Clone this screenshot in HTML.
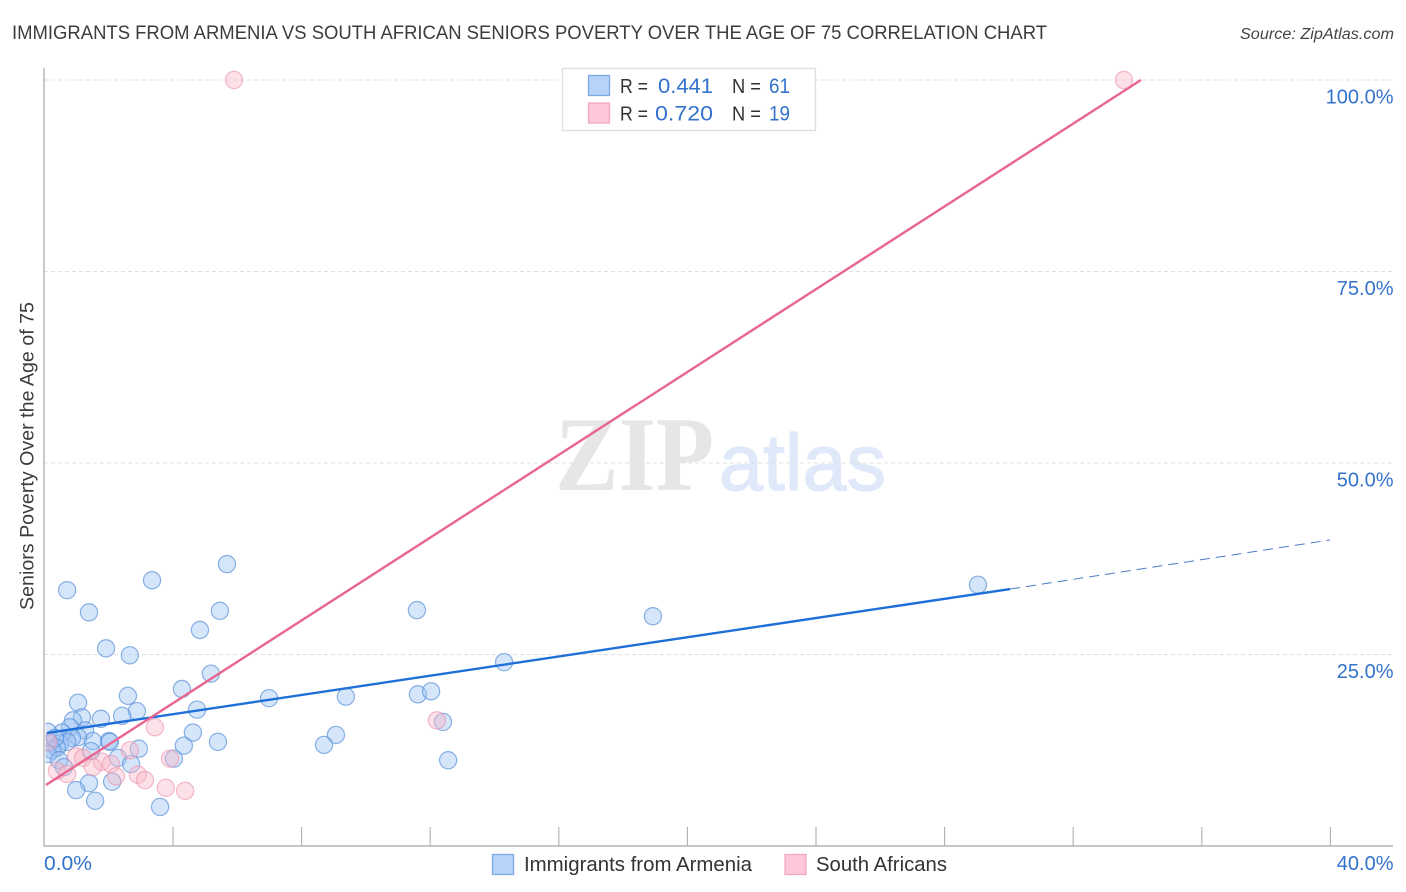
<!DOCTYPE html>
<html lang="en">
<head>
<meta charset="utf-8">
<title>Immigrants from Armenia vs South African Seniors Poverty Over the Age of 75 Correlation Chart</title>
<style>
html,body{margin:0;padding:0;background:#fff;width:1406px;height:892px;overflow:hidden}
svg{display:block}
text{font-family:"Liberation Sans",sans-serif}
</style>
</head>
<body>
<svg id="chart" width="1406" height="892" viewBox="0 0 1406 892" xmlns="http://www.w3.org/2000/svg">
  <defs>
    <clipPath id="plot-clip"><rect x="45.5" y="60" width="1350" height="786"/></clipPath>
  </defs>
  <rect x="0" y="0" width="1406" height="892" fill="#fff"/>
  <text x="12" y="39" font-size="19.5" fill="#3c3c3c" textLength="1035" lengthAdjust="spacingAndGlyphs">IMMIGRANTS FROM ARMENIA VS SOUTH AFRICAN SENIORS POVERTY OVER THE AGE OF 75 CORRELATION CHART</text>
  <text x="1394" y="39" font-size="15.5" font-style="italic" fill="#444" text-anchor="end" textLength="154" lengthAdjust="spacingAndGlyphs">Source: ZipAtlas.com</text>
  <g>
    <text x="555" y="490" font-size="106" font-weight="bold" fill="#e6e6e6" style="font-family:'Liberation Serif',serif" textLength="159" lengthAdjust="spacingAndGlyphs">ZIP</text>
    <text x="719" y="490" font-size="80" fill="#dfe9f9" stroke="#dfe9f9" stroke-width="1.2" textLength="167" lengthAdjust="spacingAndGlyphs">atlas</text>
  </g>
  <g id="grid"></g>
  <g id="axes"></g>
  <g id="blue-points" clip-path="url(#plot-clip)"></g>
  <g id="pink-points" clip-path="url(#plot-clip)"></g>
  <g id="trends"></g>
  <g>
    <rect x="562.5" y="68.5" width="253" height="62" fill="#fff" stroke="#ddd" stroke-width="1.3"/>
    <rect x="588.5" y="75.5" width="21" height="20" fill="#b7d3f8" stroke="#7eaae4" stroke-width="1.3"/>
    <rect x="588.5" y="103" width="21" height="20" fill="#fdc8d9" stroke="#f0a8c0" stroke-width="1.3"/>
    <text x="620" y="93" font-size="20" fill="#333" textLength="28" lengthAdjust="spacingAndGlyphs">R =</text>
    <text x="658" y="93" font-size="21" fill="#3472cc" textLength="55" lengthAdjust="spacingAndGlyphs">0.441</text>
    <text x="732" y="93" font-size="20" fill="#333" textLength="29" lengthAdjust="spacingAndGlyphs">N =</text>
    <text x="769" y="93" font-size="21" fill="#3472cc" textLength="21" lengthAdjust="spacingAndGlyphs">61</text>
    <text x="620" y="120.5" font-size="20" fill="#333" textLength="28" lengthAdjust="spacingAndGlyphs">R =</text>
    <text x="655" y="120.5" font-size="21" fill="#3472cc" textLength="58" lengthAdjust="spacingAndGlyphs">0.720</text>
    <text x="732" y="120.5" font-size="20" fill="#333" textLength="29" lengthAdjust="spacingAndGlyphs">N =</text>
    <text x="769" y="120.5" font-size="21" fill="#3472cc" textLength="21" lengthAdjust="spacingAndGlyphs">19</text>
  </g>
  <g>
    <rect x="492.5" y="854.5" width="21" height="20" fill="#b7d3f8" stroke="#7eaae4" stroke-width="1.3"/>
    <text x="524" y="871" font-size="20" fill="#333" textLength="228" lengthAdjust="spacingAndGlyphs">Immigrants from Armenia</text>
    <rect x="785" y="854.5" width="21" height="20" fill="#fdc8d9" stroke="#f0a8c0" stroke-width="1.3"/>
    <text x="816" y="871" font-size="20" fill="#333" textLength="131" lengthAdjust="spacingAndGlyphs">South Africans</text>
  </g>
  <text transform="translate(33.5,456) rotate(-90)" text-anchor="middle" font-size="19" fill="#3c3c3c" textLength="308" lengthAdjust="spacingAndGlyphs">Seniors Poverty Over the Age of 75</text>
</svg>
<script>
const xTickValues = [0, 4, 8, 12, 16, 20, 24, 28, 32, 36, 40];
const xEdgeLabels = ["0.0%", "40.0%"];
const yTickValues = [25, 50, 75, 100];
const yTickLabels = ["25.0%", "50.0%", "75.0%", "100.0%"];

const armeniaX = [0.72,1.40,3.36,5.69,5.47,4.85,1.93,2.67,5.19,4.29,2.61,1.06,4.76,2.89,2.43,1.18,1.77,0.90,1.28,0.81,4.63,5.41,4.35,2.95,2.02,2.05,1.52,1.46,1.06,0.56,0.87,0.12,0.50,0.72,0.19,0.40,0.25,0.12,0.47,0.62,2.30,2.71,4.04,2.12,1.40,1.00,1.59,3.61,7.00,9.39,9.08,8.71,11.63,12.04,11.60,14.31,12.41,12.57,18.94,29.05,0.34];
const armeniaY = [33.4,30.5,34.7,36.8,30.7,28.2,25.8,24.9,22.5,20.5,19.6,18.7,17.8,17.6,17.0,16.8,16.6,16.4,15.1,15.5,14.8,13.6,13.1,12.7,13.7,13.6,13.7,12.4,14.2,14.8,14.1,14.9,13.4,13.6,13.4,12.8,12.5,12.0,11.2,10.3,11.5,10.7,11.4,8.4,8.2,7.3,5.9,5.1,19.3,19.5,14.5,13.2,19.8,20.2,30.8,24.0,16.2,11.2,30.0,34.1,14.1];

const southAfricanX = [3.45,2.67,3.92,1.00,1.21,1.80,2.08,1.52,0.40,0.72,2.24,2.92,3.14,3.79,4.39,5.91,33.59,12.22,0.12];
const southAfricanY = [15.5,12.5,11.4,11.7,11.5,11.0,10.7,10.3,9.8,9.4,9.1,9.3,8.6,7.6,7.2,100,100,16.4,13.6];

const armeniaTrendX = [0.09, 30.05];
const armeniaTrendY = [14.75, 33.55];
const armeniaDashX = [30.05, 40];
const armeniaDashY = [33.55, 39.95];
const southAfricanTrendX = [0.06, 34.12];
const southAfricanTrendY = [7.96, 100];

const NS = "http://www.w3.org/2000/svg";
function xScale(v) { return 44 + v * (1330 - 44) / 40; }
function yScale(v) { return 846 - v * (846 - 80) / 100; }
function make(tag, attrs, parentId) {
  const el = document.createElementNS(NS, tag);
  for (const k in attrs) el.setAttribute(k, attrs[k]);
  document.getElementById(parentId).appendChild(el);
  return el;
}

yTickValues.forEach(function (v, i) {
  const line = make("line", {x1: 44, x2: 1393, y1: yScale(v), y2: yScale(v), stroke: "#e0e0e0", "stroke-width": 1, "stroke-dasharray": "4 3"}, "grid");
  
  
  const label = make("text", {x: 1393.5, y: yScale(v) + 23.5, "text-anchor": "end", "font-size": 20, fill: "#3472cc"}, "axes");
  label.textContent = yTickLabels[i];
  
  
});

const yAxis = make("line", {x1: 44, x2: 44, y1: 68, y2: 846, stroke: "#b4b4b4", "stroke-width": 1.4}, "axes");


const xAxis = make("line", {x1: 43.3, x2: 1393, y1: 846, y2: 846, stroke: "#b4b4b4", "stroke-width": 1.4}, "axes");



xTickValues.forEach(function (v) {
  if (v === 0) return;
  const tick = make("line", {x1: xScale(v) + 0.4, x2: xScale(v) + 0.4, y1: 827, y2: 846, stroke: "#b4b4b4", "stroke-width": 1.2}, "axes");
  
  
});

const xLabelMin = make("text", {x: 44, y: 870, "font-size": 20, fill: "#3472cc", textLength: 48, lengthAdjust: "spacingAndGlyphs"}, "axes");
xLabelMin.textContent = xEdgeLabels[0];


const xLabelMax = make("text", {x: 1393.5, y: 870, "text-anchor": "end", "font-size": 20, fill: "#3472cc"}, "axes");
xLabelMax.textContent = xEdgeLabels[1];



armeniaX.forEach(function (v, i) {
  const c = make("circle", {cx: xScale(v), cy: yScale(armeniaY[i]), r: 8.6, fill: "#9cc2f2", "fill-opacity": 0.42, stroke: "#5b93d8", "stroke-opacity": 0.7, "stroke-width": 1.2}, "blue-points");
  
  
});
southAfricanX.forEach(function (v, i) {
  const c = make("circle", {cx: xScale(v), cy: yScale(southAfricanY[i]), r: 8.6, fill: "#f8b8c8", "fill-opacity": 0.42, stroke: "#eb8fa8", "stroke-opacity": 0.6, "stroke-width": 1.2}, "pink-points");
  
  
});

const blueLine = make("line", {x1: xScale(armeniaTrendX[0]), y1: yScale(armeniaTrendY[0]), x2: xScale(armeniaTrendX[1]), y2: yScale(armeniaTrendY[1]), stroke: "#1f6fd8", "stroke-width": 2.4}, "trends");


const blueDash = make("line", {x1: xScale(armeniaDashX[0]), y1: yScale(armeniaDashY[0]), x2: xScale(armeniaDashX[1]), y2: yScale(armeniaDashY[1]), stroke: "#4a7cc4", "stroke-width": 1, "stroke-dasharray": "10 6"}, "trends");


const pinkLine = make("line", {x1: xScale(southAfricanTrendX[0]), y1: yScale(southAfricanTrendY[0]), x2: xScale(southAfricanTrendX[1]), y2: yScale(southAfricanTrendY[1]), stroke: "#e8658f", "stroke-width": 2.4}, "trends");


</script>
</body>
</html>
